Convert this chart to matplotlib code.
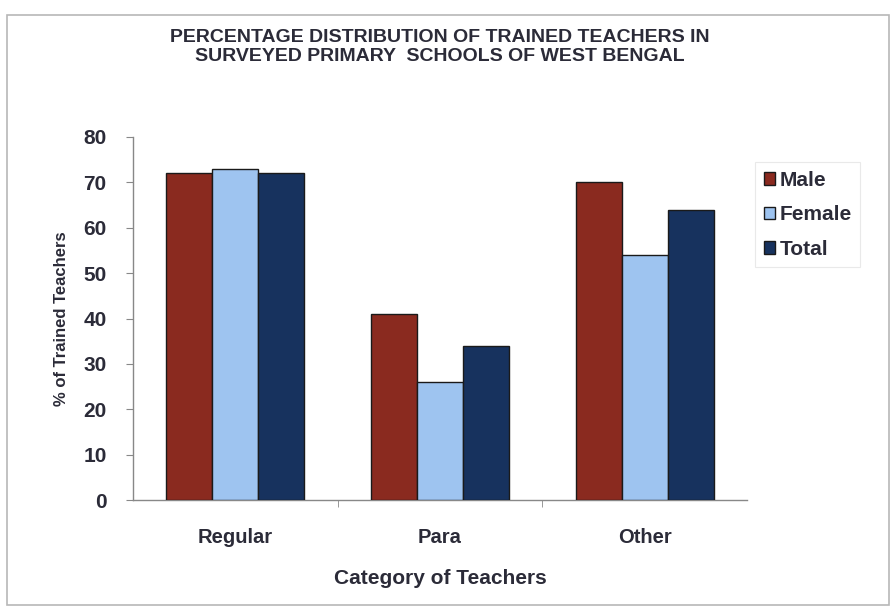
import matplotlib
matplotlib.use("Agg")
import matplotlib.pyplot as plt
import numpy as np
from matplotlib.patches import Rectangle

categories = ["Regular", "Para", "Other"]
series_names = ["Male", "Female", "Total"]
male = [72, 41, 70]
female = [73, 26, 54]
total = [72, 34, 64]
yticks = [0, 10, 20, 30, 40, 50, 60, 70, 80]

colors = ["#8A2A1F", "#9EC4F0", "#17325E"]
text_color = "#2B2B38"

plt.rcParams['font.family'] = ['Liberation Sans', 'DejaVu Sans']

fig = plt.figure(figsize=(8.96, 6.16), dpi=100)
fig.patch.set_facecolor("white")
fig.add_artist(Rectangle((7/896, 1-605/616), 882/896, 590/616, transform=fig.transFigure,
                         fill=False, edgecolor="#B8B8B8", linewidth=1.2))

ax = fig.add_axes([133/896, 1-500/616, 614/896, 363/616])
x = np.arange(len(categories))
w = 0.225
for i, (vals, name) in enumerate(zip([male, female, total], series_names)):
    ax.bar(x + (i-1)*w, vals, width=w, color=colors[i], edgecolor="#1a1a1a",
           linewidth=1.0, label=name, zorder=3)

ax.set_xlim(-0.5, 2.5)
ax.set_ylim(0, 80)
ax.set_yticks(yticks)
ax.set_yticklabels([str(t) for t in yticks], fontsize=15, fontweight="bold", color=text_color)
ax.set_xticks(x)
ax.set_xticklabels(categories, fontsize=14.5, fontweight="bold", color=text_color)
ax.tick_params(axis="x", length=0, pad=20)
ax.set_xticks([0.5, 1.5], minor=True)
ax.tick_params(axis="x", which="minor", length=5, color="#888888")
ax.tick_params(axis="y", length=5, color="#888888", pad=14)
for s in ["top", "right"]:
    ax.spines[s].set_visible(False)
for s in ["left", "bottom"]:
    ax.spines[s].set_color("#888888")
    ax.spines[s].set_linewidth(1.0)

ax.set_ylabel("% of Trained Teachers", fontsize=12, fontweight="bold", color=text_color, labelpad=10)
ax.set_xlabel("Category of Teachers", fontsize=15, fontweight="bold", color=text_color, labelpad=16)

fig.text(440/896, 1-47/616, "PERCENTAGE DISTRIBUTION OF TRAINED TEACHERS IN\nSURVEYED PRIMARY  SCHOOLS OF WEST BENGAL",
         ha="center", va="center", fontsize=14, fontweight="bold", color=text_color, linespacing=1.1)

leg = ax.legend(loc="upper left", bbox_to_anchor=(745/896, 1-152/616), bbox_transform=fig.transFigure,
                frameon=True, fontsize=15, handlelength=0.55, handleheight=0.55, handletextpad=0.2,
                labelspacing=0.75, borderpad=0.4, fancybox=False)
leg.get_frame().set_edgecolor("#E4E4E4")
leg.get_frame().set_linewidth(0.8)
for t in leg.get_texts():
    t.set_color(text_color)
    t.set_fontweight("bold")

fig.savefig("out.png", dpi=100)
